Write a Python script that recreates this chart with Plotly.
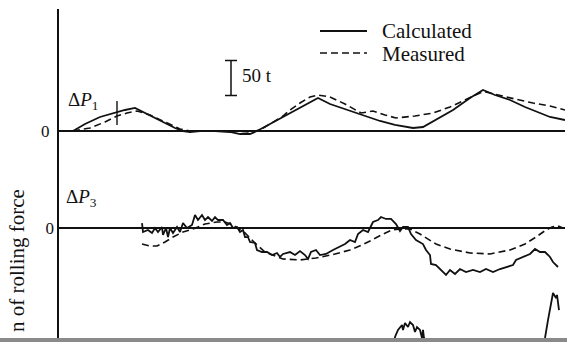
import plotly.graph_objects as go

# ---------------- data (time in s, force deviation in t) ----------------
p1_calc_t = [0.70, 1.30, 2.05, 2.90, 3.30, 3.80, 4.30, 5.05, 5.80, 6.20, 6.55, 7.05, 7.80, 8.55,
             9.05, 9.55, 9.90, 10.55, 11.20, 11.55, 12.05, 12.55, 12.95, 13.55, 14.30, 15.10,
             16.05, 16.80, 17.70, 18.20, 18.80, 19.70, 20.55, 21.20, 21.80, 22.55, 23.30, 24.05,
             24.55, 25.30]
p1_calc_v = [0, 10.0, 20.0, 27.1, 30.0, 32.9, 25.7, 14.3, 4.3, 0, -1.4, 0, 0, -1.4,
             -4.3, -4.3, 0, 10.0, 20.0, 25.7, 32.9, 41.4, 47.1, 38.6, 31.4, 22.9,
             14.3, 8.6, 4.3, 5.7, 15.7, 30.0, 47.1, 58.6, 51.4, 44.3, 34.3, 25.7,
             20.0, 15.7]

p1_meas_t = [0.70, 1.55, 2.30, 2.90, 3.40, 3.90, 4.55, 5.30, 6.05, 6.55, 8.55, 9.55, 10.05,
             10.55, 11.20, 11.55, 12.05, 12.55, 12.95, 13.55, 14.30, 15.10, 15.70, 16.30,
             16.85, 17.80, 18.70, 19.55, 20.30, 21.05, 21.35, 22.05, 22.80, 23.70, 24.55, 25.30]
p1_meas_v = [0, 4.3, 12.9, 21.4, 25.7, 28.6, 22.9, 12.9, 2.9, 0, 0, -1.4, 1.4,
             10.0, 21.4, 30.0, 40.0, 48.6, 51.4, 48.6, 38.6, 25.7, 28.6, 22.9,
             18.6, 21.4, 25.7, 34.3, 44.3, 54.3, 55.7, 51.4, 45.7, 40.0, 35.7, 30.0]

p1_mark_t = [2.90]
p1_mark_v = [25.7]

p3_calc_t = [4.15, 4.20, 4.45, 4.65, 4.80, 4.95, 5.15, 5.20, 5.35, 5.45, 5.55, 5.70, 5.90, 6.05,
             6.20, 6.40, 6.65, 6.80, 6.95, 7.15, 7.30, 7.45, 7.65, 7.80, 7.95, 8.20, 8.40, 8.55,
             8.70, 8.90, 9.05, 9.20, 9.30, 9.45, 9.55, 9.80, 9.90, 10.15, 10.40, 10.65, 10.90,
             11.05, 11.20, 11.55, 11.80, 12.05, 12.30, 12.45, 12.60, 12.85, 13.05, 13.35, 13.70,
             14.05, 14.30, 14.55, 14.80, 14.95, 15.20, 15.45, 15.70, 15.95, 16.10, 16.35, 16.60,
             16.85, 17.05, 17.20, 17.45, 17.60, 17.85, 18.20, 18.35, 18.55, 18.60, 18.85, 19.10,
             19.35, 19.55, 19.80, 20.05, 20.35, 20.70, 21.05, 21.35, 21.70, 22.05, 22.35, 22.70,
             22.85, 23.20, 23.55, 23.80, 24.05, 24.30, 24.55, 24.70, 24.95]
p3_calc_v = [7.1, -5.7, -2.9, -7.1, 0, -5.7, 1.4, -10.0, 0, -12.9, 0, -7.1, 1.4, -5.7,
             7.1, 0, 4.3, 18.6, 11.4, 18.6, 11.4, 15.7, 10.0, 15.7, 11.4, 11.4, 4.3, 7.1,
             0, 1.4, -5.7, -2.9, -12.9, -12.9, -20.0, -21.4, -31.4, -34.3, -34.3, -38.6, -35.7,
             -41.4, -37.1, -34.3, -38.6, -32.9, -38.6, -44.3, -34.3, -31.4, -38.6, -37.1, -31.4,
             -27.1, -22.9, -17.1, -20.0, -8.6, -2.9, -5.7, 8.6, 11.4, 15.7, 12.9, 12.9,
             5.7, -4.3, 1.4, 1.4, -8.6, -17.1, -22.9, -31.4, -38.6, -51.4, -52.9, -60.0,
             -67.1, -60.0, -65.7, -58.6, -62.9, -60.0, -62.9, -58.6, -62.9, -58.6, -55.7, -52.9,
             -45.7, -41.4, -37.1, -30.0, -34.3, -34.3, -41.4, -48.6, -55.7]

p3_meas_t = [4.15, 4.55, 4.90, 5.30, 5.70, 6.20, 6.70, 7.30, 7.90, 8.30, 8.70, 9.30, 9.80,
             10.30, 11.20, 12.05, 12.85, 13.80, 14.55, 15.15, 15.65, 16.20, 16.65, 17.05,
             17.55, 18.05, 18.85, 19.55, 20.55, 21.55, 22.55, 23.30, 23.85, 24.35, 24.65,
             24.95, 25.20]
p3_meas_v = [-22.9, -25.7, -25.7, -20.0, -12.9, -5.7, -1.4, 5.7, 8.6, 8.6, 4.3, -7.1, -21.4,
             -34.3, -44.3, -45.7, -42.9, -37.1, -31.4, -24.3, -17.1, -8.6, -2.9, -1.4,
             -1.4, -8.6, -22.9, -30.0, -35.7, -37.1, -31.4, -22.9, -12.9, -2.9, 1.4,
             2.9, 0]

p5_t = [16.70, 16.80, 16.95, 17.15, 17.20, 17.30, 17.45, 17.55, 17.70, 17.80, 17.90, 18.05,
        18.15, 18.20, 18.25, 18.35, None,
        24.15, 24.30, 24.45, 24.55, 24.65, 24.70, 24.85, 24.90, 25.00]
p5_v = [14.3, 32.9, 42.9, 50.0, 42.9, 52.9, 47.1, 54.3, 50.0, 40.0, 47.1, 42.9,
        31.4, 42.9, 31.4, 14.3, None,
        14.3, 31.4, 57.1, 71.4, 85.7, 95.7, 88.6, 92.9, 71.4]

scale_bar_t = 50
zero_tick_vals = [0]
zero_tick_text = ["0"]
legend_labels = ["Calculated", "Measured"]
panel_labels = ["Δ<i>P</i><sub>1</sub>", "Δ<i>P</i><sub>3</sub>"]
y_title = "n of rolling force"

# ---------------- layout constants (pixels) ----------------
W, H = 567, 344
ML, MR, MT, MB = 59, 2, 9, 6
PW, PH = W - ML - MR, H - MT - MB
PX_PER_T = 0.7           # 50 t  -> 35 px
X_RANGE = [0, 25.3]
ZERO_PX = [131, 228, 360]   # pixel row of zero for each panel
FONT = "Liberation Serif, Times New Roman, serif"
BLACK = "#111111"
DASH = "7px,4px"


def yrange(zero_px):
    top = (zero_px - MT) / PX_PER_T
    bottom = (H - MB - zero_px) / PX_PER_T
    return [-bottom, top]


def px_x(px):
    return (px - ML) / PW


def px_y(py):
    return (H - MB - py) / PH


fig = go.Figure()

line_solid = dict(color=BLACK, width=1.8)
line_dash = dict(color=BLACK, width=1.6, dash=DASH)

fig.add_trace(go.Scatter(x=p1_calc_t, y=p1_calc_v, mode="lines", line=line_solid,
                         yaxis="y", name=legend_labels[0], showlegend=False))
fig.add_trace(go.Scatter(x=p1_meas_t, y=p1_meas_v, mode="lines", line=line_dash,
                         yaxis="y", name=legend_labels[1], showlegend=False))
fig.add_trace(go.Scatter(x=p1_mark_t, y=p1_mark_v, mode="markers",
                         marker=dict(symbol="line-ns", size=17, line=dict(color=BLACK, width=1.4)),
                         yaxis="y", showlegend=False))
fig.add_trace(go.Scatter(x=p3_calc_t, y=p3_calc_v, mode="lines",
                         line=dict(color=BLACK, width=1.8), yaxis="y2", showlegend=False))
fig.add_trace(go.Scatter(x=p3_meas_t, y=p3_meas_v, mode="lines", line=line_dash,
                         yaxis="y2", showlegend=False))
fig.add_trace(go.Scatter(x=p5_t, y=p5_v, mode="lines", line=dict(color=BLACK, width=1.8),
                         yaxis="y3", showlegend=False, connectgaps=False))

# 50 t scale bar, drawn in the ΔP1 axis units
bar_x = (231 - ML) / (PW / (X_RANGE[1] - X_RANGE[0]))
bar_center = (ZERO_PX[0] - 78) / PX_PER_T
fig.add_trace(go.Scatter(x=[bar_x], y=[bar_center], mode="markers",
                         marker=dict(size=1, color="rgba(0,0,0,0)"),
                         error_y=dict(type="constant", value=scale_bar_t / 2, width=6,
                                      thickness=1.5, color=BLACK),
                         yaxis="y", showlegend=False))

axis_common = dict(showgrid=False, tickvals=zero_tick_vals, ticktext=zero_tick_text,
                   ticks="", ticklabelstandoff=4,
                   tickfont=dict(family=FONT, size=17, color=BLACK),
                   zeroline=True, zerolinecolor=BLACK, zerolinewidth=1.6, fixedrange=True)

fig.update_layout(
    width=W, height=H,
    margin=dict(l=ML, r=MR, t=MT, b=MB, pad=0),
    paper_bgcolor="white", plot_bgcolor="white",
    showlegend=False,
    xaxis=dict(range=X_RANGE, visible=False, fixedrange=True),
    yaxis=dict(range=yrange(ZERO_PX[0]), showline=True, linecolor=BLACK, linewidth=2,
               **axis_common),
    yaxis2=dict(range=yrange(ZERO_PX[1]), overlaying="y", side="left", showline=False,
                **axis_common),
    yaxis3=dict(range=yrange(ZERO_PX[2]), overlaying="y", visible=False, fixedrange=True),
)

annotations = [
    dict(text=panel_labels[0], x=px_x(66), y=px_y(101), xanchor="left", yanchor="middle",
         font=dict(family=FONT, size=19, color=BLACK)),
    dict(text=panel_labels[1], x=px_x(64), y=px_y(198), xanchor="left", yanchor="middle",
         font=dict(family=FONT, size=19, color=BLACK)),
    dict(text="50 t", x=px_x(240), y=px_y(76), xanchor="left", yanchor="middle",
         font=dict(family=FONT, size=19, color=BLACK)),
    dict(text=legend_labels[0], x=px_x(380), y=px_y(31), xanchor="left", yanchor="middle",
         font=dict(family=FONT, size=21, color=BLACK)),
    dict(text=legend_labels[1], x=px_x(380), y=px_y(54), xanchor="left", yanchor="middle",
         font=dict(family=FONT, size=21, color=BLACK)),
    dict(text=y_title, x=px_x(17), y=px_y(261), xanchor="center", yanchor="middle",
         textangle=-90, font=dict(family=FONT, size=21, color=BLACK)),
]
for a in annotations:
    a.update(xref="paper", yref="paper", showarrow=False)
fig.update_layout(annotations=annotations)

shapes = [
    dict(type="line", xref="paper", yref="paper", x0=px_x(320), x1=px_x(367),
         y0=px_y(31), y1=px_y(31), line=dict(color=BLACK, width=1.8)),
    dict(type="line", xref="paper", yref="paper", x0=px_x(320), x1=px_x(367),
         y0=px_y(53), y1=px_y(53), line=dict(color=BLACK, width=1.6, dash=DASH)),
    dict(type="rect", xref="paper", yref="paper", x0=px_x(0), x1=px_x(W),
         y0=px_y(342), y1=px_y(338), line=dict(width=0), fillcolor="#8a8a8a", layer="above"),
]
fig.update_layout(shapes=shapes)

fig.write_html(
    "out.html",
    config={"displayModeBar": False},
    post_script="document.body.style.margin='0';document.body.style.padding='0';"
                "document.body.style.overflow='hidden';",
)
